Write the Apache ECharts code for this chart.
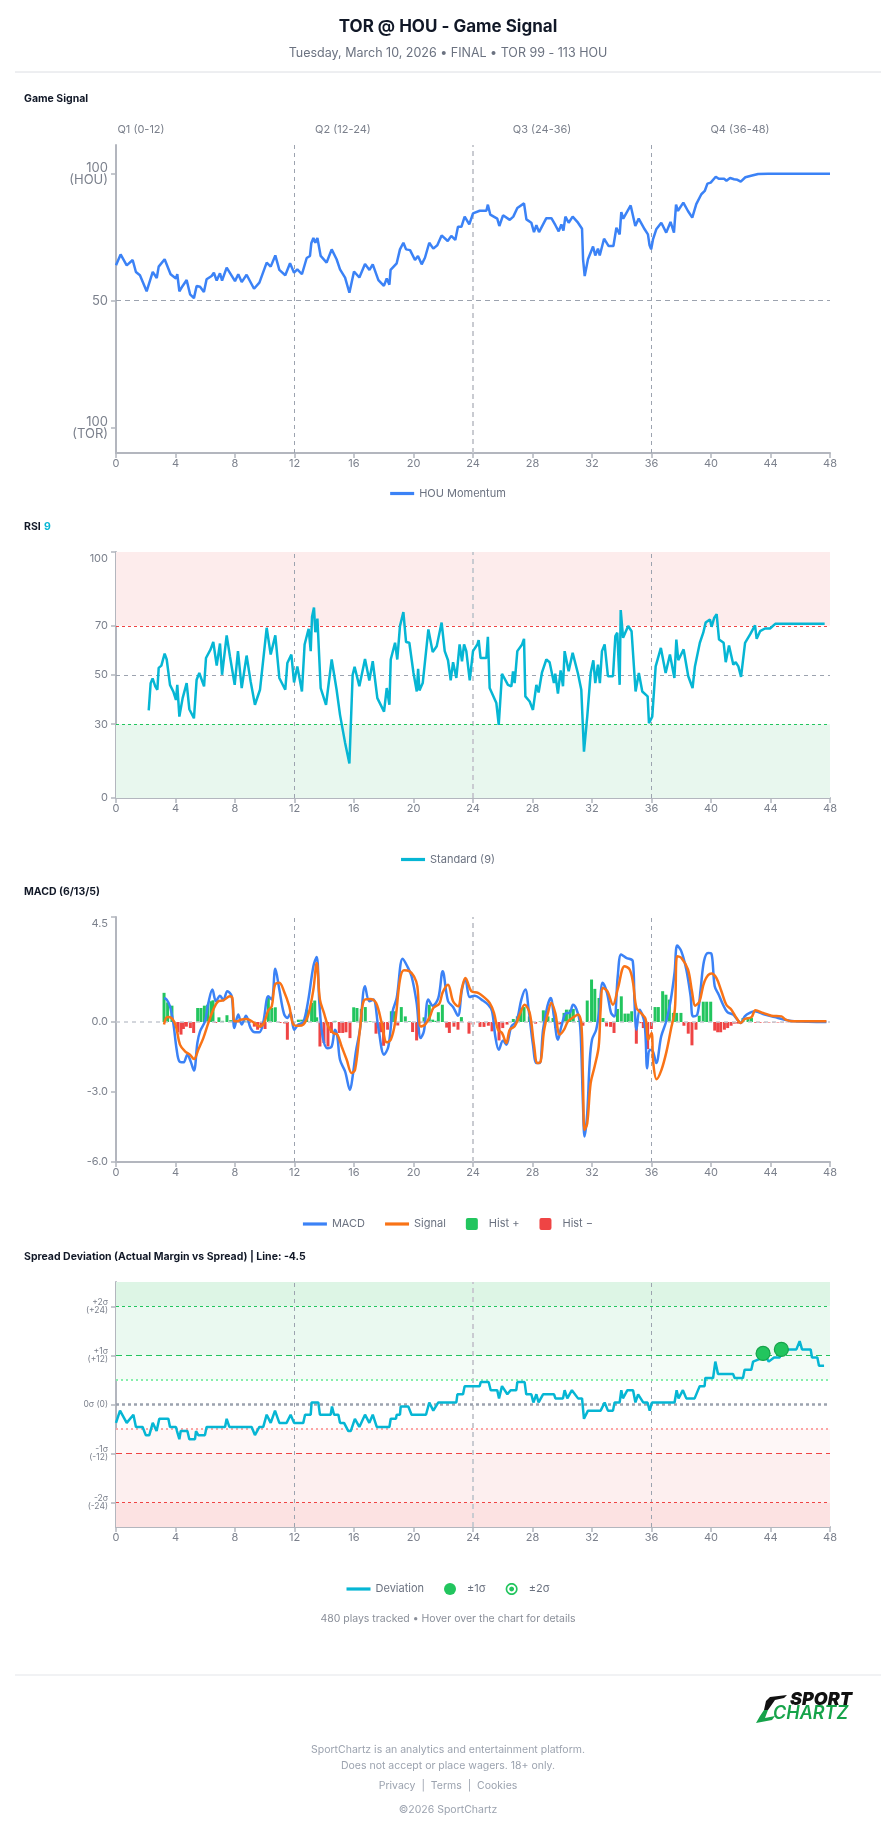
<!DOCTYPE html>
<html><head><meta charset="utf-8">
<script src="https://cdn.jsdelivr.net/npm/echarts@6/dist/echarts.min.js"></script>
<style>html,body{margin:0;padding:0;background:#fff;}#c{width:896px;height:1845px;}</style>
</head><body><div id="c"></div>
<script>
// ---------- DATA ----------
const quarterLabels = ['Q1 (0-12)', 'Q2 (12-24)', 'Q3 (24-36)', 'Q4 (36-48)'];
const quarterBreaks = [12, 24, 36];

const signalTicks = [0, 50, 100];
const signalTickLabels = ['100\n(TOR)', '50', '100\n(HOU)'];
const rsiTicks = [0, 30, 50, 70, 100];
const macdTicks = [-6, -3, 0, 4.5];
const devTicks = [-24, -12, 0, 12, 24];
const devTickLabels = ['-2σ\n(-24)', '-1σ\n(-12)', '0σ (0)', '+1σ\n(+12)', '+2σ\n(+24)'];

const momentum = [
[0,63.9],[0.31,68.2],[0.72,63.9],[1.12,66],[1.34,61.3],[1.61,60],[2.06,53.7],[2.47,61.3],[2.74,58.9],[2.87,63.4],[3.27,66.3],[3.67,60.4],[4.03,58.7],[4.12,60.4],[4.26,53.7],[4.48,55.8],[4.75,58.1],[4.98,52.5],[5.24,51],[5.42,55.8],[5.65,55.5],[5.91,53.4],[6.09,58.4],[6.43,59.7],[6.58,61],[6.77,57.9],[6.99,60.8],[7.13,57.9],[7.44,63],[8.0,57.7],[8.22,60.4],[8.45,57.3],[8.78,60.2],[9.28,54.7],[9.64,57.1],[10.13,65],[10.4,63.4],[10.71,67.8],[10.98,62.1],[11.38,60],[11.7,64.7],[11.97,61],[12.19,62.3],[12.5,60.4],[12.82,66.8],[13.04,67.6],[13.13,72.6],[13.27,74.7],[13.4,72.8],[13.54,74.7],[13.76,67.6],[14.16,65],[14.5,70.2],[14.83,66.3],[15.06,62.3],[15.4,59.1],[15.69,53.1],[16.0,61.5],[16.36,59.1],[16.74,64.4],[17.04,62.1],[17.26,64.3],[17.64,58.1],[18.01,55.8],[18.2,58.7],[18.38,56.3],[18.46,62.1],[18.87,64.7],[19.09,70.2],[19.32,72.8],[19.5,70.2],[19.77,69.9],[20.1,66],[20.3,67.6],[20.55,64.3],[20.77,66.9],[21.06,72.8],[21.33,70.5],[21.6,71.8],[21.89,75.7],[22.3,73.5],[22.54,75.5],[22.81,73.9],[22.99,79.1],[23.22,79.1],[23.44,83.1],[23.75,80],[24.0,84.4],[24.45,85.4],[24.9,85.4],[25.0,87.8],[25.16,83.9],[25.63,82.3],[25.77,79.4],[26.02,83.6],[26.47,81.8],[26.71,83.1],[26.98,86.5],[27.43,88.3],[27.59,82],[27.92,80.7],[28.1,77],[28.26,79.7],[28.44,77],[28.93,82.5],[29.27,82.5],[29.54,79.7],[29.76,77.3],[29.94,80],[30.08,77.6],[30.21,83.1],[30.43,80.7],[30.7,83.1],[31.06,80.7],[31.33,78.3],[31.4,66.3],[31.51,59.7],[31.73,66.3],[32.07,71.3],[32.22,67.8],[32.4,70.5],[32.52,67.8],[32.81,74.4],[33.12,71.5],[33.44,71.5],[33.64,78.7],[33.86,76.1],[33.97,84.9],[34.1,82.3],[34.6,87.5],[34.91,79.4],[35.14,82.3],[35.54,78.1],[35.76,76.1],[35.87,71.8],[35.98,70.2],[36.1,74.1],[36.32,78.1],[36.66,80.7],[36.99,76.8],[37.28,81],[37.51,76.8],[37.65,87.8],[37.78,85.4],[38.14,88.6],[38.45,85.3],[38.74,82.7],[39.01,88],[39.35,91.9],[39.58,93.2],[39.76,96.1],[39.98,96.5],[40.07,95.8],[40.32,98.8],[40.52,98],[40.88,98],[41.04,97.2],[41.28,98.3],[41.55,97.8],[41.78,97.6],[42.0,96.9],[42.31,98.6],[42.76,99.3],[43.17,99.9],[43.84,100],[48,100]
];

const rsi = [
[2.2,35.6],[2.33,46.7],[2.46,48.6],[2.64,45.4],[2.78,44],[2.87,52.9],[3.05,53.8],[3.27,58.7],[3.41,56.3],[3.63,46],[3.85,43.3],[4.03,39.9],[4.12,46],[4.26,33.1],[4.48,40.6],[4.75,46.7],[4.93,36.1],[5.24,32.4],[5.42,48.1],[5.6,50.8],[5.92,45.4],[6.05,56.9],[6.36,60.4],[6.54,63.4],[6.77,53.8],[6.99,62.8],[7.13,50.1],[7.44,66.1],[7.66,57.6],[7.98,46],[8.2,59.7],[8.45,44.7],[8.78,57.9],[9.05,47.4],[9.34,37.9],[9.68,44],[10.13,69.2],[10.4,58.3],[10.71,66.1],[10.98,48.8],[11.38,44],[11.52,54.9],[11.79,58.3],[11.97,47],[12.19,53.5],[12.5,43.3],[12.68,62.4],[12.95,68.8],[13.09,59.7],[13.18,73.7],[13.31,77.4],[13.4,67.4],[13.54,72.9],[13.76,44.7],[14.12,37.9],[14.5,56.3],[14.83,44],[15.06,33.8],[15.4,22.5],[15.69,14],[15.91,50.1],[16.04,53.3],[16.36,45.4],[16.74,56.5],[17.03,47.8],[17.26,55.6],[17.57,40.6],[18.02,35.1],[18.2,44.7],[18.38,37.9],[18.47,56.3],[18.76,63.1],[18.91,56.3],[19.09,69.9],[19.32,75.6],[19.5,63.4],[19.72,63.1],[20.0,50.8],[20.22,43.3],[20.31,52.5],[20.4,43.7],[20.62,46.7],[21.0,68.5],[21.29,59.3],[21.56,61.7],[21.89,71.3],[22.1,59.7],[22.32,56],[22.5,47.8],[22.66,55.2],[22.88,48.8],[23.1,62.4],[23.26,55.6],[23.4,62.4],[23.55,59.7],[23.78,47.8],[24.0,59.7],[24.29,62.4],[24.38,64.2],[24.51,56.9],[24.9,56.9],[25.0,65.5],[25.12,44.7],[25.57,38.6],[25.73,29.7],[25.95,50.5],[26.35,46],[26.58,45.4],[26.69,51.5],[26.8,46.7],[26.98,59.7],[27.3,62.4],[27.43,64.7],[27.52,41.3],[27.81,39.2],[28.03,35.8],[28.26,46],[28.41,42.9],[28.64,51.1],[28.93,56.3],[29.15,55.2],[29.44,46.7],[29.53,50.5],[29.71,42.4],[29.89,51.9],[30.05,45.4],[30.16,59.7],[30.43,51.5],[30.7,59],[31.06,50.5],[31.28,44],[31.46,18.8],[31.68,33.1],[31.91,50.8],[32.09,56],[32.22,46.7],[32.4,54.2],[32.53,46.7],[32.67,59.7],[32.85,62.4],[33.07,49.5],[33.41,49.5],[33.57,65.8],[33.7,67.2],[33.86,46],[33.93,76.4],[34.09,65.1],[34.43,69.9],[34.66,67.8],[34.93,43.3],[35.15,50.8],[35.38,43.3],[35.74,41.3],[35.83,30.4],[36.05,33.1],[36.28,53.5],[36.63,61],[36.95,50.8],[37.24,58.3],[37.54,48.8],[37.67,64.4],[37.8,56],[38.16,60.4],[38.47,49.5],[38.76,44.7],[38.92,53.5],[39.25,63.1],[39.48,67.2],[39.64,71.3],[39.93,72.6],[40.04,69.6],[40.22,73.3],[40.38,74.7],[40.54,64.4],[40.85,63.1],[40.99,55.2],[41.21,62],[41.5,54.2],[41.66,55.2],[41.84,53.5],[42.02,49.2],[42.29,63.1],[42.63,66.5],[42.96,70.2],[43.07,64.7],[43.3,67.8],[43.63,68.9],[43.97,68.9],[44.32,70.8],[47.64,70.8]
];

const macd = [
[3.23,1.03],[3.41,0.96],[3.63,0.67],[3.85,-0.04],[4.08,-1.19],[4.26,-1.69],[4.53,-1.73],[4.8,-1.4],[5.02,-1.69],[5.24,-2.08],[5.47,-0.9],[5.65,-0.4],[5.98,0.03],[6.21,0.82],[6.48,1.39],[6.72,0.89],[6.99,1.13],[7.22,0.93],[7.48,1.32],[7.78,1.1],[7.96,-0.26],[8.22,0.32],[8.45,-0.11],[8.74,0.27],[9.05,-0.26],[9.34,-0.44],[9.64,-0.44],[9.9,-0.01],[10.24,1.1],[10.47,0.96],[10.71,2.28],[10.98,1.39],[11.29,0.36],[11.52,0.17],[11.74,0.39],[11.97,-0.33],[12.26,-0.11],[12.59,-0.01],[12.93,0.96],[13.27,2.39],[13.49,2.79],[13.67,0.82],[13.89,-0.62],[14.21,-1.12],[14.5,-1.05],[14.72,-0.33],[14.88,-0.62],[15.06,-1.62],[15.4,-2.12],[15.73,-2.91],[15.91,-2.33],[16.13,-1.26],[16.4,-0.33],[16.74,1.53],[17.03,0.89],[17.3,0.96],[17.64,-0.26],[18.02,-1.4],[18.31,-1.05],[18.6,0.46],[18.87,1.03],[19.27,2.71],[19.58,2.39],[19.87,1.96],[20.21,0.82],[20.48,-0.69],[20.7,-0.4],[21.0,0.96],[21.29,0.7],[21.67,1.03],[21.96,2.18],[22.32,0.9],[22.66,0.64],[22.99,0.27],[23.26,1.39],[23.49,1.82],[23.78,1.07],[24.12,1.13],[24.57,0.96],[25.02,0.74],[25.28,0.46],[25.5,-0.62],[25.73,-1.19],[26.02,-0.79],[26.24,-0.97],[26.58,-0.19],[26.92,0.03],[27.25,0.96],[27.52,1.39],[27.74,0.53],[28.03,-0.97],[28.26,-1.76],[28.48,-1.76],[28.71,-0.33],[29.0,0.67],[29.22,1.03],[29.44,0.24],[29.71,-0.76],[29.94,-0.19],[30.27,0.39],[30.5,0.39],[30.72,0.74],[30.95,0.56],[31.17,0.03],[31.28,-1.19],[31.39,-3.48],[31.5,-4.91],[31.68,-3.91],[31.84,-1.76],[32.0,-0.76],[32.28,-0.33],[32.5,0.53],[32.72,1.68],[33.01,1.25],[33.28,0.39],[33.5,0.24],[33.73,1.96],[33.96,2.89],[34.3,2.75],[34.74,2.61],[34.86,0.82],[34.99,-0.33],[35.2,0.53],[35.53,-0.04],[35.71,-1.98],[35.87,-1.19],[36.09,-1.26],[36.32,-1.76],[36.65,-0.62],[36.99,0.03],[37.28,0.89],[37.55,2.11],[37.73,3.28],[38.0,3.04],[38.34,2.25],[38.63,1.1],[38.79,0.24],[39.08,0.32],[39.3,1.39],[39.53,2.61],[39.8,2.96],[40.02,2.94],[40.25,1.53],[40.52,1.17],[40.81,0.74],[41.1,0.42],[41.48,0.32],[41.77,0.1],[42.0,-0.04],[42.27,0.24],[42.6,0.39],[42.94,0.46],[43.61,0.32],[44.28,0.21],[44.96,0.1],[45.63,0.03],[47.76,0]
];

const macdSignal = [
[3.23,-0.11],[3.45,0.21],[3.74,0.17],[4.03,-0.19],[4.3,-0.97],[4.64,-1.26],[4.97,-1.4],[5.24,-1.59],[5.53,-1.19],[5.87,-0.69],[6.21,-0.04],[6.54,0.53],[6.88,0.89],[7.22,0.93],[7.66,1.1],[7.82,1.03],[7.96,0.03],[8.16,0.03],[8.38,0.1],[8.78,0.13],[9.23,-0.01],[9.68,-0.19],[9.95,-0.04],[10.24,0.5],[10.47,0.67],[10.69,1.6],[10.98,1.68],[11.29,1.32],[11.65,0.67],[11.92,-0.11],[12.26,-0.16],[12.59,-0.11],[12.93,0.32],[13.27,1.39],[13.49,2.53],[13.71,0.96],[13.98,0.39],[14.27,-0.19],[14.61,-0.47],[14.88,-0.54],[15.17,-1.05],[15.51,-1.62],[15.84,-2.19],[16.07,-2.05],[16.4,-0.33],[16.67,0.93],[17.07,0.99],[17.48,0.82],[17.86,-0.04],[18.2,-0.87],[18.47,-0.76],[18.76,-0.04],[19.09,1.82],[19.36,2.22],[19.72,2.18],[20.03,1.96],[20.26,1.53],[20.48,-0.19],[20.78,-0.11],[21.11,0.24],[21.33,0.6],[21.74,0.79],[21.96,1.27],[22.32,1.6],[22.66,0.89],[22.99,0.67],[23.26,1.46],[23.49,1.89],[23.89,1.32],[24.34,1.25],[24.68,1.1],[25.12,0.82],[25.41,0.39],[25.68,-0.33],[25.95,-0.47],[26.24,-0.9],[26.47,-0.33],[26.8,-0.19],[27.14,0.32],[27.47,0.74],[27.81,0.39],[28.1,-0.97],[28.33,-1.76],[28.55,-1.69],[28.77,-0.4],[29.04,0.39],[29.27,0.82],[29.53,0.39],[29.83,-0.54],[30.12,-0.33],[30.39,0.03],[30.84,0.24],[31.06,0.32],[31.28,-0.04],[31.39,-2.33],[31.5,-4.63],[31.68,-4.34],[31.91,-2.62],[32.18,-1.9],[32.45,-1.05],[32.58,0.53],[32.74,1.46],[33.03,1.32],[33.41,0.74],[33.75,1.46],[34.19,2.39],[34.53,2.25],[34.76,1.68],[34.99,0.6],[35.33,0.36],[35.6,0.13],[35.78,-0.76],[36.0,-0.47],[36.12,-1.76],[36.34,-2.45],[36.67,-2.05],[37.01,-1.26],[37.3,-0.33],[37.57,0.53],[37.73,2.82],[38.0,2.75],[38.45,2.25],[38.72,1.32],[38.94,0.7],[39.23,0.89],[39.57,1.75],[40.02,2.08],[40.36,1.89],[40.7,1.32],[41.03,0.74],[41.37,0.53],[41.71,0.17],[42.0,-0.04],[42.27,0.13],[42.72,0.21],[42.99,0.5],[43.5,0.39],[44.06,0.27],[44.74,0.24],[45.01,0.1],[45.52,0.03],[47.76,0.03]
];

const macdHist = [
[3.23,1.25],[3.47,0.84],[3.76,0.7],[4.15,-0.44],[4.37,-0.54],[4.53,-0.3],[4.73,-0.2],[5.0,-0.26],[5.22,-0.47],[5.49,0.6],[5.71,0.6],[5.94,0.7],[6.16,0.74],[6.39,0.89],[6.52,0.93],[6.7,-0.04],[6.92,0.2],[7.17,0.05],[7.46,0.29],[7.71,0.08],[8.0,0.04],[8.29,-0.03],[8.67,0.05],[8.96,-0.04],[9.3,-0.2],[9.52,-0.33],[9.75,-0.25],[10.02,-0.3],[10.24,1.1],[10.47,0.6],[10.71,0.63],[11.03,-0.04],[11.34,-0.06],[11.52,-0.76],[11.88,-0.04],[12.26,0.1],[12.48,0.1],[12.82,0.53],[13.15,0.82],[13.36,0.92],[13.49,0.2],[13.71,-1.05],[13.98,-0.9],[14.25,-1.05],[14.48,-0.47],[14.72,0.05],[15.01,-0.47],[15.24,-0.47],[15.46,-0.44],[15.73,-0.69],[15.98,0.63],[16.2,0.6],[16.49,0.56],[16.76,0.64],[17.08,0.03],[17.48,-0.5],[17.79,-0.44],[17.99,-1.02],[18.26,-0.33],[18.51,0.46],[18.73,0.46],[18.94,-0.15],[19.18,0.64],[19.45,0.24],[19.72,0.03],[19.94,-0.43],[20.21,-0.79],[20.44,-0.05],[20.71,0.2],[21.06,0.74],[21.29,0.1],[21.51,0.05],[21.67,0.42],[21.94,0.74],[22.23,-0.24],[22.41,-0.47],[22.72,-0.2],[22.99,-0.33],[23.22,0.21],[23.73,-0.5],[24.0,-0.11],[24.47,-0.21],[24.74,-0.21],[25.03,-0.16],[25.28,-0.4],[25.75,-0.79],[26.0,-0.26],[26.29,-0.11],[26.71,0.13],[26.98,0.24],[27.2,0.6],[27.43,0.64],[27.79,0.24],[28.21,-0.07],[28.51,0.02],[28.73,0.5],[29.04,0.24],[29.38,0.17],[29.56,-0.26],[29.83,-0.1],[30.12,0.39],[30.28,0.53],[30.52,0.53],[30.74,0.56],[31.1,0.05],[31.39,-0.16],[31.68,0.92],[31.97,1.82],[32.19,1.42],[32.47,1.03],[32.74,0.17],[32.98,-0.19],[33.25,-0.21],[33.48,-0.47],[33.71,0.56],[33.97,1.1],[34.22,0.36],[34.44,0.36],[34.67,0.46],[34.98,-0.93],[35.23,-0.05],[35.45,-0.26],[35.74,-1.16],[35.99,-0.3],[36.24,0.64],[36.46,0.64],[36.75,1.32],[36.97,1.17],[37.2,0.96],[37.47,0.39],[37.69,0.39],[37.98,0.39],[38.18,-0.16],[38.47,-0.5],[38.72,-1.0],[38.99,-0.33],[39.21,0.27],[39.48,0.87],[39.71,0.87],[39.98,0.87],[40.25,-0.37],[40.45,-0.44],[40.65,-0.44],[40.9,-0.33],[41.12,-0.26],[41.35,-0.16],[41.57,-0.07],[41.8,-0.07],[42.15,0.17],[42.49,0.21],[42.72,0.17],[43.0,-0.03],[43.3,-0.03],[43.6,-0.02],[43.9,-0.02],[44.2,-0.02],[44.5,-0.02],[44.8,-0.02],[45.1,-0.01],[45.4,-0.01]
];

const deviation = [
[0,-4.5],[0.27,-1.5],[0.72,-4.5],[1.17,-2.5],[1.34,-5.5],[1.79,-5.5],[2.0,-7.5],[2.24,-7.5],[2.47,-4.5],[2.73,-6.5],[2.91,-3.5],[3.52,-3.5],[3.63,-5.5],[4.03,-5.5],[4.1,-6.5],[4.26,-8.5],[4.35,-6.5],[4.8,-6.5],[4.93,-8.5],[5.31,-8.5],[5.38,-6.5],[5.53,-7.5],[5.98,-7.5],[6.09,-5.5],[7.33,-5.5],[7.44,-3.5],[7.62,-5.5],[9.12,-5.5],[9.34,-7.5],[9.64,-5.5],[9.9,-5.5],[10.13,-2.5],[10.4,-4.5],[10.69,-1.5],[10.98,-4.5],[11.47,-4.5],[11.74,-2.5],[11.97,-4.5],[12.59,-4.5],[12.71,-2.5],[13.09,-2.5],[13.15,0.5],[13.6,0.5],[13.71,-2.5],[14.43,-2.5],[14.52,-0.5],[14.66,-2.5],[14.95,-2.5],[15.06,-4.5],[15.33,-4.5],[15.62,-6.5],[15.78,-6.5],[16.06,-3.5],[16.36,-5.5],[16.74,-2.5],[17.03,-4.5],[17.26,-2.5],[17.53,-5.5],[18.38,-5.5],[18.47,-3.5],[18.82,-3.5],[18.87,-2.5],[19.09,-2.5],[19.14,-0.5],[19.65,-0.5],[19.87,-2.5],[20.84,-2.5],[21.06,0.5],[21.33,-1.5],[21.67,0.5],[22.88,0.5],[22.95,2.5],[23.33,2.5],[23.44,4.5],[24.45,4.5],[24.52,5.5],[25.05,5.5],[25.19,3.5],[25.63,3.5],[25.75,1.5],[25.95,4.5],[26.31,2.5],[26.53,3.5],[26.91,3.5],[26.98,5.5],[27.47,5.5],[27.58,2.5],[27.92,2.5],[28.06,0.5],[28.26,2.5],[28.41,0.5],[28.71,2.5],[29.45,2.5],[29.54,1.5],[30.05,1.5],[30.16,3.5],[30.34,1.5],[30.65,3.5],[31.06,1.5],[31.33,1.5],[31.46,-3.5],[31.73,-1.5],[32.58,-1.5],[32.85,0.5],[33.07,-1.5],[33.41,-1.5],[33.52,0.5],[33.86,0.5],[33.97,3.5],[34.08,1.5],[34.38,3.5],[34.76,3.5],[34.92,0.5],[35.1,2.5],[35.44,0.5],[35.73,0.5],[35.88,-1.5],[36.03,0.5],[37.55,0.5],[37.69,3.5],[37.82,1.5],[38.11,3.5],[38.34,1.5],[38.9,1.5],[39.24,4.5],[39.57,4.5],[39.62,6.5],[40.14,6.5],[40.29,10.5],[40.47,7.5],[41.48,7.5],[41.59,6.5],[42.15,6.5],[42.26,8.5],[42.71,8.5],[42.83,10.5],[43.5,11.5],[43.72,11.5],[43.88,10.5],[44.24,11.5],[44.62,11.5],[44.73,13.5],[45.74,13.5],[45.96,15.5],[46.12,13.5],[46.7,13.5],[46.79,11.5],[47.15,11.5],[47.26,9.5],[47.6,9.5]
];
const sigma1Hits = [[43.5,12.5],[44.73,13.5]];
const sigma2Hits = [];

// ---------- STYLE HELPERS ----------
const FONT = 'Inter, "Noto Sans", sans-serif';
const AX = '#b3b6be';
const LBL = '#7b808c';

function xAx(gi){
  return {type:'value', gridIndex:gi, min:0, max:48, interval:4,
    axisLine:{show:true, onZero:false, lineStyle:{color:AX, width:2}},
    axisTick:{show:true, length:5, lineStyle:{color:AX, width:1.5}},
    axisLabel:{color:LBL, fontSize:11, fontFamily:FONT, margin:5},
    splitLine:{show:false}};
}
function yAx(gi, min, max, ticks, fmt, extra){
  return {type:'value', gridIndex:gi, min:min, max:max,
    axisLine:{show:true, onZero:false, lineStyle:{color:AX, width:2}},
    axisTick:{show:true, length:5, customValues:ticks, lineStyle:{color:AX, width:1.5}},
    axisLabel:Object.assign({customValues:ticks, color:LBL, fontSize:11, fontFamily:FONT, margin:8, formatter:fmt}, extra||{}),
    splitLine:{show:false}};
}
function quarterMarks(){
  return quarterBreaks.map(q => ({xAxis:q, lineStyle: q===24
    ? {color:'#c9cbd1', width:2, type:[5,4]}
    : {color:'#9ca3af', width:1, type:[4,4]}}));
}
function hLine(v, color, width, type){ return {yAxis:v, lineStyle:{color:color, width:width, type:type}}; }
function band(a, b, color){ return [{yAxis:a, itemStyle:{color:color}}, {yAxis:b}]; }

function circ(r, cw){
  const n = 36, pts = [];
  for (let i = 0; i < n; i++){
    const a = (cw ? 1 : -1) * i * 2 * Math.PI / n;
    pts.push((r*Math.cos(a)).toFixed(2) + ',' + (r*Math.sin(a)).toFixed(2));
  }
  return 'M' + pts.join('L') + 'Z';
}
const lineIcon = 'path://M0,0H24V3.2H0Z';
const sqIcon = 'path://M2,0H10Q12,0 12,2V10Q12,12 10,12H2Q0,12 0,10V2Q0,0 2,0Z';
const ringIcon = 'path://' + circ(10, true) + circ(7.2, false) + circ(4, true);

const legendBase = {left:'center', itemWidth:24, itemHeight:12, itemGap:20,
  textStyle:{color:'#6b7280', fontSize:11, fontFamily:FONT}};

// ---------- GRAPHIC TEXT ----------
function txt(t, x, y, font, fill, align){
  return {type:'text', x:x, y:y, silent:true, style:{text:t, font:font, fill:fill,
    textAlign:align||'left', align:align||'left', textVerticalAlign:'middle', verticalAlign:'middle'}};
}
const graphics = [
  txt('TOR @ HOU - Game Signal', 448, 27, 'bold 17px '+FONT, '#111827', 'center'),
  txt('Tuesday, March 10, 2026 • FINAL • TOR 99 - 113 HOU', 448, 53, '12.5px '+FONT, '#6b7280', 'center'),
  {type:'line', shape:{x1:15, y1:72, x2:881, y2:72}, style:{stroke:'#dcdee3', lineWidth:1}, silent:true},
  txt('Game Signal', 24, 99, 'bold 10.5px '+FONT, '#111827'),
  txt(quarterLabels[0], 141, 130, '11px '+FONT, '#7b808c', 'center'),
  txt(quarterLabels[1], 343, 130, '11px '+FONT, '#7b808c', 'center'),
  txt(quarterLabels[2], 542, 130, '11px '+FONT, '#7b808c', 'center'),
  txt(quarterLabels[3], 740, 130, '11px '+FONT, '#7b808c', 'center'),
  {type:'text', x:24, y:527, silent:true, style:{text:'{a|RSI} {b|9}', textVerticalAlign:'middle', verticalAlign:'middle',
    rich:{a:{font:'bold 10.5px '+FONT, fill:'#111827'}, b:{font:'bold 10.5px '+FONT, fill:'#06b6d4'}}}},
  txt('MACD (6/13/5)', 24, 892, 'bold 10.5px '+FONT, '#111827'),
  txt('Spread Deviation (Actual Margin vs Spread) | Line: -4.5', 24, 1257, 'bold 10.5px '+FONT, '#111827'),
  txt('480 plays tracked • Hover over the chart for details', 448, 1619, '10.5px '+FONT, '#8a8f99', 'center'),
  {type:'line', shape:{x1:15, y1:1675, x2:881, y2:1675}, style:{stroke:'#e3e5e9', lineWidth:1}, silent:true},
  // logo
  {type:'polygon', silent:true, shape:{points:[[770,1697],[787,1695],[784,1698],[775,1700],[768,1710],[764,1710],[766,1701]]}, style:{fill:'#111111'}},
  {type:'polygon', silent:true, shape:{points:[[764,1710],[768,1710],[765,1718],[775,1716],[772,1720],[756,1723],[760,1716]]}, style:{fill:'#16a34a'}},
  txt('SPORT', 790, 1700, 'italic 900 18px '+FONT, '#111111'),
  txt('CHARTZ', 773, 1714, 'italic 600 18px '+FONT, '#16a34a'),
  txt('SportChartz is an analytics and entertainment platform.', 448, 1750, '10.5px '+FONT, '#9ca3af', 'center'),
  txt('Does not accept or place wagers. 18+ only.', 448, 1766, '10.5px '+FONT, '#9ca3af', 'center'),
  txt('Privacy  |  Terms  |  Cookies', 448, 1786, '10.5px '+FONT, '#9ca3af', 'center'),
  txt('©2026 SportChartz', 448, 1810, '10.5px '+FONT, '#9ca3af', 'center')
];

// ---------- OPTION ----------
const grids = [
  {left:116, width:714, top:145, height:308},
  {left:116, width:714, top:552, height:246},
  {left:116, width:714, top:917, height:245},
  {left:116, width:714, top:1282, height:245}
];

const option = {
  animation:false,
  backgroundColor:'#ffffff',
  grid: grids,
  xAxis: [xAx(0), xAx(1), xAx(2), xAx(3)],
  yAxis: [
    yAx(0, -10, 111.3, signalTicks, v => signalTickLabels[signalTicks.indexOf(v)] || '', {fontSize:13, lineHeight:12}),
    yAx(1, 0, 100, rsiTicks, v => v===100 ? '{t|100}' : String(v), {rich:{t:{fontSize:11, color:LBL, fontFamily:FONT, padding:[14,0,0,0]}}}),
    yAx(2, -6, 4.5, macdTicks, v => v===4.5 ? '{t|4.5}' : v.toFixed(1), {rich:{t:{fontSize:11, color:LBL, fontFamily:FONT, padding:[14,0,0,0]}}}),
    yAx(3, -30, 30, devTicks, v => devTickLabels[devTicks.indexOf(v)] || '', {fontSize:8.5, lineHeight:8.5})
  ],
  legend: [
    Object.assign({}, legendBase, {top:483, data:[{name:'HOU Momentum', icon:lineIcon}]}),
    Object.assign({}, legendBase, {top:849, data:[{name:'Standard (9)', icon:lineIcon}]}),
    Object.assign({}, legendBase, {top:1213, data:[{name:'MACD', icon:lineIcon},{name:'Signal', icon:lineIcon},{name:'Hist +', icon:sqIcon},{name:'Hist −', icon:sqIcon}]}),
    Object.assign({}, legendBase, {top:1578, data:[{name:'Deviation', icon:lineIcon},
      {name:'±1σ', icon:'circle', itemStyle:{color:'#22c55e', borderWidth:0}},
      {name:'±2σ', icon:ringIcon, itemStyle:{color:'#22c55e', borderWidth:0}}]})
  ],
  graphic: graphics,
  series: [
    {name:'HOU Momentum', type:'line', xAxisIndex:0, yAxisIndex:0, data:momentum, symbol:'none',
      lineStyle:{color:'#3b82f6', width:2.5}, itemStyle:{color:'#3b82f6'}, z:5,
      markLine:{silent:true, symbol:['none','none'], label:{show:false},
        data: quarterMarks().concat([hLine(50,'#9ca3af',1,[5,4])])}},
    {name:'Standard (9)', type:'line', xAxisIndex:1, yAxisIndex:1, data:rsi, symbol:'none',
      lineStyle:{color:'#06b6d4', width:2.5}, itemStyle:{color:'#06b6d4'}, z:5,
      markArea:{silent:true, data:[band(70,100,'#fdecec'), band(0,30,'#e8f7ee')]},
      markLine:{silent:true, symbol:['none','none'], label:{show:false},
        data: quarterMarks().concat([hLine(70,'#ef4444',1,[3,3]), hLine(50,'#9ca3af',1,[4,4]), hLine(30,'#22c55e',1,[3,3])])}},
    {name:'Hist +', type:'bar', xAxisIndex:2, yAxisIndex:2, barWidth:3, barGap:'-100%',
      data: macdHist.filter(d => d[1] >= 0), itemStyle:{color:'#22c55e'}, z:2,
      markLine:{silent:true, symbol:['none','none'], label:{show:false},
        data: quarterMarks().concat([hLine(0,'#c5c9d1',1.5,[4,4])])}},
    {name:'Hist −', type:'bar', xAxisIndex:2, yAxisIndex:2, barWidth:3, barGap:'-100%',
      data: macdHist.filter(d => d[1] < 0), itemStyle:{color:'#ef4444'}, z:2},
    {name:'MACD', type:'line', xAxisIndex:2, yAxisIndex:2, data:macd, symbol:'none', smooth:0.35,
      lineStyle:{color:'#3b82f6', width:2.5}, itemStyle:{color:'#3b82f6'}, z:5},
    {name:'Signal', type:'line', xAxisIndex:2, yAxisIndex:2, data:macdSignal, symbol:'none', smooth:0.35,
      lineStyle:{color:'#f97316', width:2.5}, itemStyle:{color:'#f97316'}, z:6},
    {name:'Deviation', type:'line', xAxisIndex:3, yAxisIndex:3, data:deviation, symbol:'none',
      lineStyle:{color:'#06b6d4', width:2.5}, itemStyle:{color:'#06b6d4'}, z:5,
      markArea:{silent:true, data:[
        band(24,30,'#ddf5e5'), band(12,24,'#eaf9f0'), band(6,12,'#f4fcf7'),
        band(-12,-6,'#fef7f7'), band(-24,-12,'#fdefef'), band(-30,-24,'#fce2e2')]},
      markLine:{silent:true, symbol:['none','none'], label:{show:false},
        data: quarterMarks().concat([
          hLine(24,'#22c55e',1,[3,3]), hLine(12,'#22c55e',1.2,[6,4]), hLine(6,'#86efac',2,[2,3]),
          hLine(0,'#9ca3af',2.5,[3,3]), hLine(-6,'#fca5a5',2,[2,3]), hLine(-12,'#ef4444',1.2,[6,4]),
          hLine(-24,'#ef4444',1,[3,3])])}},
    {name:'±1σ', type:'scatter', xAxisIndex:3, yAxisIndex:3, data:sigma1Hits, symbol:'circle', symbolSize:14,
      itemStyle:{color:'#22c55e', borderColor:'#16a34a', borderWidth:1.2, opacity:1}, z:8},
    {name:'±2σ', type:'scatter', xAxisIndex:3, yAxisIndex:3, data:sigma2Hits, symbol:'circle', symbolSize:14,
      itemStyle:{color:'#22c55e', borderColor:'#16a34a', borderWidth:1.2, opacity:1}, z:8}
  ]
};

const chart = echarts.init(document.getElementById('c'), null, {renderer:'canvas', width:896, height:1845});
chart.setOption(option);
</script></body></html>
